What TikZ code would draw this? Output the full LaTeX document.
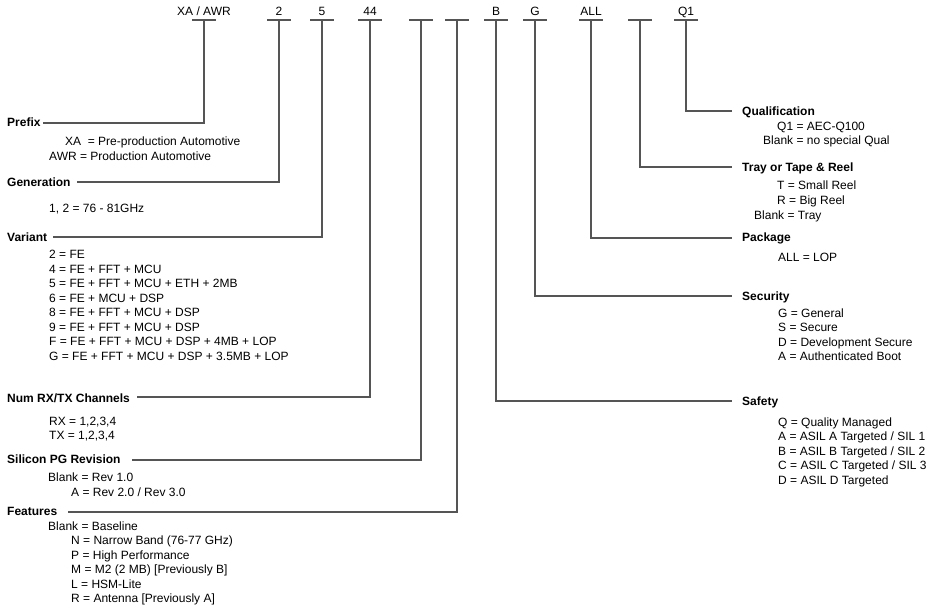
\documentclass[tikz,border=0pt]{standalone}
\usepackage{fontspec}
\setmainfont{Liberation Sans}
\definecolor{linegray}{RGB}{85,85,85}
\begin{document}
\begin{tikzpicture}[x=1pt,y=-1pt,
  font=\fontsize{12}{14.5}\selectfont,
  lbl/.style={anchor=base west, inner sep=0pt},
  hd/.style={lbl, font=\fontsize{12}{14.5}\selectfont\bfseries},
  toplbl/.style={anchor=base, inner sep=0pt},
  conn/.style={draw=linegray, line width=1.2pt}]
\useasboundingbox (0,0) rectangle (936,613);

% ---------- top code row ----------
\foreach \n/\x/\t in {pre/204/{XA / AWR}, gen/279/2, var/322/5, num/370/44,
                      sil/421/{}, fea/457/{}, saf/496/B, sec/535/G,
                      pkg/591/ALL, tray/640/{}, qual/686/Q1}{
  \coordinate (b\n) at (\x,20);
  \node[toplbl] (t\n) at (\x,15) {\t};
  \draw[conn] ([xshift=-12pt]b\n) -- ([xshift=12pt]b\n);
}

% ---------- left headings ----------
\node[hd] (hpre) at (7,126) {Prefix};
\node[hd] (hgen) at (7,186) {Generation};
\node[hd] (hvar) at (7,241) {Variant};
\node[hd] (hnum) at (7,402) {Num RX/TX Channels};
\node[hd] (hsil) at (7,463) {Silicon PG Revision};
\node[hd] (hfea) at (7,515) {Features};

\coordinate (spre) at (43,123);
\coordinate (sgen) at (77,182);
\coordinate (svar) at (53,237);
\coordinate (snum) at (137,397);
\coordinate (ssil) at (132,460);
\coordinate (sfea) at (68,512);
\foreach \n in {pre,gen,var,num,sil,fea}{
  \draw[conn] (s\n) -| (b\n);
}

% ---------- right headings ----------
\node[hd] (hqual) at (742,115) {Qualification};
\node[hd] (htray) at (742,171) {Tray or Tape \& Reel};
\node[hd] (hpkg)  at (742,241) {Package};
\node[hd] (hsec)  at (742,300) {Security};
\node[hd] (hsaf)  at (742,405) {Safety};

\foreach \n/\y in {qual/111, tray/167, pkg/238, sec/296, saf/401}{
  \coordinate (e\n) at (732,\y);
  \draw[conn] (b\n) |- (e\n);
}

% ---------- left body text ----------
\node[lbl] (p1) at (65,145) {XA\ \ = Pre-production Automotive};
\node[lbl] (p2) at (49,160) {AWR = Production Automotive};

\node[lbl] (g1) at (49,212) {1, 2 = 76 - 81GHz};

\foreach \i/\t in {0/{2 = FE}, 1/{4 = FE + FFT + MCU}, 2/{5 = FE + FFT + MCU + ETH + 2MB},
                   3/{6 = FE + MCU + DSP}, 4/{8 = FE + FFT + MCU + DSP},
                   5/{9 = FE + FFT + MCU + DSP}, 6/{F = FE + FFT + MCU + DSP + 4MB + LOP},
                   7/{G = FE + FFT + MCU + DSP + 3.5MB + LOP}}{
  \node[lbl] (v\i) at (49,{258.5+14.5*\i}) {\t};
}

\node[lbl] (n1) at (49,425) {RX = 1,2,3,4};
\node[lbl] (n2) at (49,439.5) {TX = 1,2,3,4};

\node[lbl] (s1) at (48,481) {Blank = Rev 1.0};
\node[lbl] (s2) at (71,496) {A = Rev 2.0 / Rev 3.0};

\node[lbl] (f0) at (48,530) {Blank = Baseline};
\foreach \i/\t in {1/{N = Narrow Band (76-77 GHz)}, 2/{P = High Performance},
                   3/{M = M2 (2 MB) [Previously B]}, 4/{L = HSM-Lite},
                   5/{R = Antenna [Previously A]}}{
  \node[lbl] (f\i) at (71,{530+14.5*\i}) {\t};
}

% ---------- right body text ----------
\node[lbl] (q1) at (777,130) {Q1 = AEC-Q100};
\node[lbl] (q2) at (763,144.5) {Blank = no special Qual};

\node[lbl] (r1) at (777,189) {T = Small Reel};
\node[lbl] (r2) at (777,204) {R = Big Reel};
\node[lbl] (r3) at (754,219) {Blank = Tray};

\node[lbl] (k1) at (778,261) {ALL = LOP};

\foreach \i/\t in {0/{G = General}, 1/{S = Secure}, 2/{D = Development Secure},
                   3/{A = Authenticated Boot}}{
  \node[lbl] (c\i) at (778,{317+14.5*\i}) {\t};
}

\foreach \i/\t in {0/{Q = Quality Managed}, 1/{A = ASIL A Targeted / SIL 1},
                   2/{B = ASIL B Targeted / SIL 2}, 3/{C = ASIL C Targeted / SIL 3},
                   4/{D = ASIL D Targeted}}{
  \node[lbl] (a\i) at (778,{426+14.5*\i}) {\t};
}
\end{tikzpicture}
\end{document}
